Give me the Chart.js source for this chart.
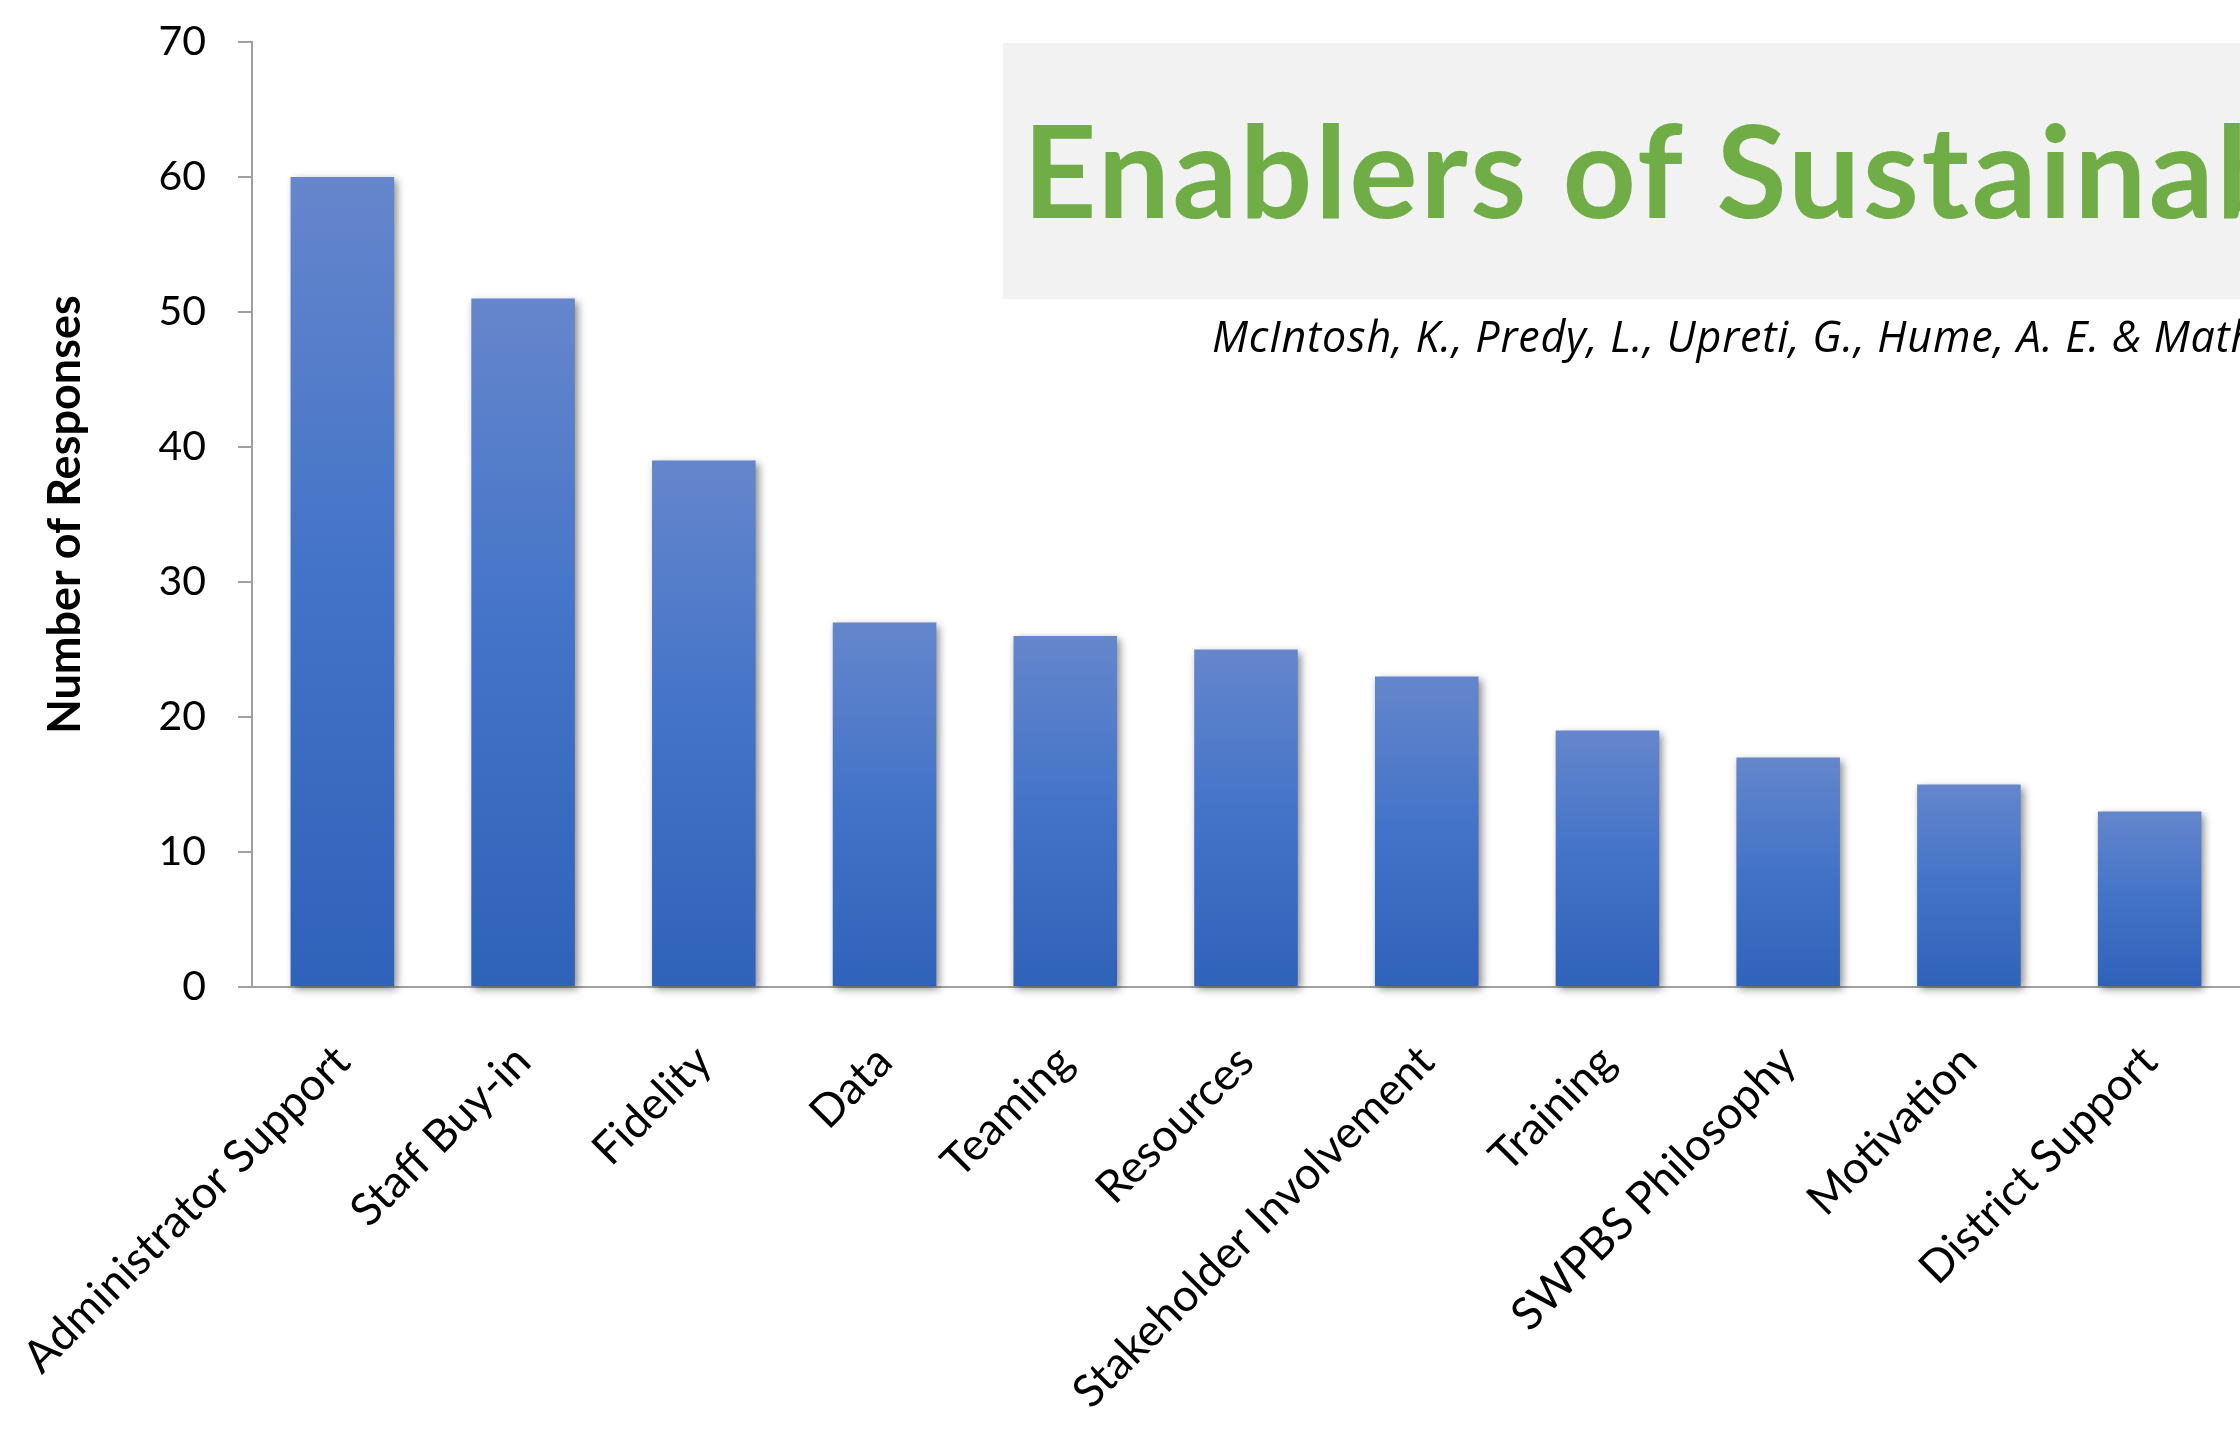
<!DOCTYPE html>
<html>
<head>
    <title>Enablers of Sustainability</title>
    <style>
        html, body {
            margin: 0;
            padding: 0;
            background: #fff;
            overflow: hidden;
        }
        #wrap {
            position: relative;
            width: 2240px;
            height: 1440px;
        }
        #enablersChart {
            position: absolute;
            left: 0;
            top: 0;
        }
        .banner {
            position: absolute;
            left: 1003px;
            top: 43px;
            width: 1237px;
            height: 256px;
            background: #f2f2f2;
            overflow: hidden;
        }
        .banner h1 {
            position: absolute;
            left: 20px;
            top: 62px;
            margin: 0;
            font: bold 128px/128px Lato, sans-serif;
            letter-spacing: 2.5px;
            color: #70ad47;
            white-space: nowrap;
        }
        .cite {
            position: absolute;
            left: 1212px;
            top: 314px;
            font: italic 43px/43px "Open Sans", sans-serif;
            letter-spacing: 0.8px;
            color: #000;
            white-space: nowrap;
        }
    </style>
    <script src="https://cdn.jsdelivr.net/npm/chart.js"></script>
</head>
<body>
    <div id="wrap">
        <canvas id="enablersChart" width="2240" height="1440"></canvas>
        <div class="banner"><h1>Enablers of Sustainability</h1></div>
        <div class="cite">McIntosh, K., Predy, L., Upreti, G., Hume, A. E. &amp; Mathews, S. (2014)</div>
    </div>

    <script>
        const categories = ['Administrator Support', 'Staff Buy-in', 'Fidelity', 'Data', 'Teaming',
            'Resources', 'Stakeholder Involvement', 'Training', 'SWPBS Philosophy', 'Motivation',
            'District Support'];
        const responses = [60, 51, 39, 27, 26, 25, 23, 19, 17, 15, 13];
        const yTicks = [0, 10, 20, 30, 40, 50, 60, 70];

        Chart.defaults.font.family = 'Lato, sans-serif';
        Chart.defaults.color = '#000';

        // soft drop shadow behind the bars
        const barShadow = {
            id: 'barShadow',
            beforeDatasetsDraw(chart) {
                const c = chart.ctx;
                c.save();
                c.shadowColor = 'rgba(0, 0, 0, 0.45)';
                c.shadowBlur = 8;
                c.shadowOffsetX = 3;
                c.shadowOffsetY = 3;
            },
            afterDatasetsDraw(chart) {
                chart.ctx.restore();
            }
        };

        // each bar fades from a lighter top to a deeper blue at its base
        function barGradient(ctx) {
            const chart = ctx.chart;
            if (!chart.chartArea || ctx.type !== 'data') return '#4472c4';
            const y = chart.scales.y;
            const top = y.getPixelForValue(ctx.raw);
            const base = y.getPixelForValue(0);
            const g = chart.ctx.createLinearGradient(0, top, 0, base);
            g.addColorStop(0, '#6586cc');
            g.addColorStop(0.5, '#4273c8');
            g.addColorStop(1, '#2f62b9');
            return g;
        }

        const ctx = document.getElementById('enablersChart').getContext('2d');
        const chart = new Chart(ctx, {
            type: 'bar',
            data: {
                labels: categories,
                datasets: [{
                    label: 'Number of Responses',
                    data: responses,
                    backgroundColor: barGradient,
                    borderWidth: 0,
                    categoryPercentage: 1,
                    barPercentage: 0.573,
                    clip: false
                }]
            },
            plugins: [barShadow],
            options: {
                responsive: false,
                animation: false,
                devicePixelRatio: 1,
                layout: {
                    padding: { top: 42, left: 0, right: 0, bottom: 0 }
                },
                plugins: {
                    legend: { display: false },
                    tooltip: { enabled: false }
                },
                scales: {
                    x: {
                        afterFit(scale) {
                            scale.height = 453;
                            // long rotated labels may hang left past the y axis
                            scale.paddingLeft = 0;
                            scale.paddingRight = 0;
                        },
                        grid: { display: false },
                        border: { display: true, color: '#a0a0a0', width: 2 },
                        ticks: {
                            minRotation: 45,
                            maxRotation: 45,
                            autoSkip: false,
                            padding: 40,
                            font: { size: 45 },
                            color: '#000'
                        }
                    },
                    y: {
                        min: 0,
                        max: 70,
                        afterFit(scale) {
                            scale.width = 252;
                            // keep the top of the axis at the layout padding
                            scale.paddingTop = 0;
                            scale.paddingBottom = 0;
                        },
                        afterBuildTicks(scale) {
                            scale.ticks = yTicks.map(v => ({ value: v }));
                        },
                        grid: {
                            drawOnChartArea: false,
                            drawTicks: true,
                            tickLength: 14,
                            color: '#a0a0a0',
                            lineWidth: 2
                        },
                        border: { display: true, color: '#a0a0a0', width: 2 },
                        ticks: {
                            padding: 32,
                            font: { size: 41 },
                            color: '#000'
                        },
                        title: {
                            display: true,
                            text: 'Number of Responses',
                            font: { size: 45, weight: 'bold' },
                            color: '#000',
                            padding: { top: 38, bottom: 0 }
                        }
                    }
                }
            }
        });
    </script>
</body>
</html>
